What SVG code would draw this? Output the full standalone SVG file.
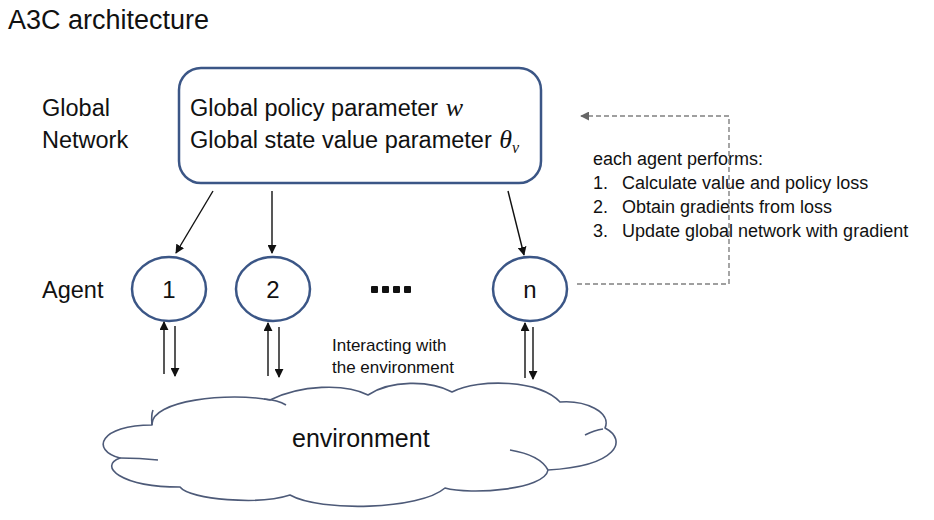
<svg xmlns="http://www.w3.org/2000/svg" width="934" height="520" viewBox="0 0 934 520">
<style>
  .t{font-family:"Liberation Sans",Arial,sans-serif;fill:#111}
  .node{fill:#fff;stroke:#3b5686;stroke-width:2.5}
  .arr{stroke:#111;stroke-width:1.4;fill:none;marker-end:url(#ah)}
  .dash{stroke:#808080;stroke-width:1.4;fill:none;stroke-dasharray:5 3}
  .math{font-family:"Liberation Serif","DejaVu Serif",serif;font-style:italic;fill:#111}
  .cloud{fill:#fff;stroke:#4d5a78;stroke-width:1.6;stroke-linejoin:round}
  .tail{fill:none;stroke:#4d5a78;stroke-width:1.6}
</style>
<defs>
  <marker id="ah" viewBox="0 0 10 10" refX="9" refY="5" markerWidth="9" markerHeight="9" markerUnits="userSpaceOnUse" orient="auto">
    <path d="M0,0 L10,5 L0,10 z" fill="#111"/>
  </marker>
  <marker id="ahg" viewBox="0 0 10 10" refX="9" refY="5" markerWidth="9" markerHeight="9" markerUnits="userSpaceOnUse" orient="auto">
    <path d="M0,0 L10,5 L0,10 z" fill="#666"/>
  </marker>
</defs>
<rect width="934" height="520" fill="#fff"/>
<text class="t" x="8" y="29" font-size="27">A3C architecture</text>

<g id="labels">
  <text class="t" x="42" y="116" font-size="23.5">Global</text>
  <text class="t" x="42" y="148" font-size="23.5">Network</text>
  <text class="t" x="42" y="298" font-size="23.5">Agent</text>
</g>

<g id="global-network">
  <rect class="node" x="179" y="68" width="362" height="115" rx="22"/>
  <text class="t" x="190" y="116" font-size="23.5">Global policy parameter <tspan class="math" font-size="26" dx="1">w</tspan></text>
  <text class="t" x="190" y="148" font-size="23.5">Global state value parameter <tspan class="math" font-size="26" dx="1">θ</tspan><tspan class="math" font-size="16" dy="5">v</tspan></text>
</g>

<g id="agent-1">
  <ellipse class="node" cx="169" cy="289" rx="37" ry="32"/>
  <text class="t" x="169" y="298" font-size="24" text-anchor="middle">1</text>
</g>
<g id="agent-2">
  <ellipse class="node" cx="273" cy="289" rx="37" ry="32"/>
  <text class="t" x="273" y="298" font-size="24" text-anchor="middle">2</text>
</g>
<g id="agent-dots" fill="#111">
  <rect x="371" y="286" width="7" height="7" rx="1"/>
  <rect x="382" y="286" width="7" height="7" rx="1"/>
  <rect x="393" y="286" width="7" height="7" rx="1"/>
  <rect x="404" y="286" width="7" height="7" rx="1"/>
</g>
<g id="agent-n">
  <ellipse class="node" cx="530" cy="289" rx="37" ry="32"/>
  <text class="t" x="530" y="298" font-size="24" text-anchor="middle">n</text>
</g>

<g id="steps">
  <text class="t" x="593" y="165" font-size="18">each agent performs:</text>
  <text class="t" x="593" y="189" font-size="18">1.</text>
  <text class="t" x="622" y="189" font-size="18">Calculate value and policy loss</text>
  <text class="t" x="593" y="213" font-size="18">2.</text>
  <text class="t" x="622" y="213" font-size="18">Obtain gradients from loss</text>
  <text class="t" x="593" y="237" font-size="18">3.</text>
  <text class="t" x="622" y="237" font-size="18">Update global network with gradient</text>
</g>

<g id="environment">
  <path class="cloud" d="M152,425 C150,400 230,392 270,400 C300,385 345,383 368,395 C390,380 430,380 452,392 C480,378 540,380 560,402 C585,400 612,412 605,428 C628,440 618,466 548,470 C545,490 470,495 445,488 C420,510 320,512 290,495 C260,505 190,500 180,487 C120,487 98,466 120,458 C90,450 100,425 152,425 Z"/>
  <path class="tail" d="M264,399 Q278,400 286,405"/>
  <path class="tail" d="M152,425 Q151,415 153,410"/>
  <path class="tail" d="M120,458 Q140,458 158,460"/>
  <path class="tail" d="M585,435 Q595,430 603,429"/>
  <path class="tail" d="M510,450 Q540,455 548,470"/>
  <text class="t" x="292" y="447" font-size="25">environment</text>
</g>

<g id="interaction-label">
  <text class="t" x="332" y="351" font-size="17">Interacting with</text>
  <text class="t" x="332" y="373" font-size="17">the environment</text>
</g>

<g id="connectors">
  <line class="arr" x1="213" y1="191" x2="176" y2="253"/>
  <line class="arr" x1="272" y1="191" x2="272" y2="253"/>
  <line class="arr" x1="508" y1="191" x2="524" y2="255"/>
  <line class="arr" x1="164" y1="374" x2="164" y2="322"/>
  <line class="arr" x1="175" y1="326" x2="175" y2="376" stroke="#444"/>
  <line class="arr" x1="268" y1="376" x2="268" y2="323"/>
  <line class="arr" x1="279" y1="327" x2="279" y2="377"/>
  <line class="arr" x1="525" y1="378" x2="525" y2="323"/>
  <line class="arr" x1="533" y1="327" x2="533" y2="379"/>
  <path class="dash" d="M577,284 H729 V116 H581" marker-end="url(#ahg)"/>
</g>
</svg>
